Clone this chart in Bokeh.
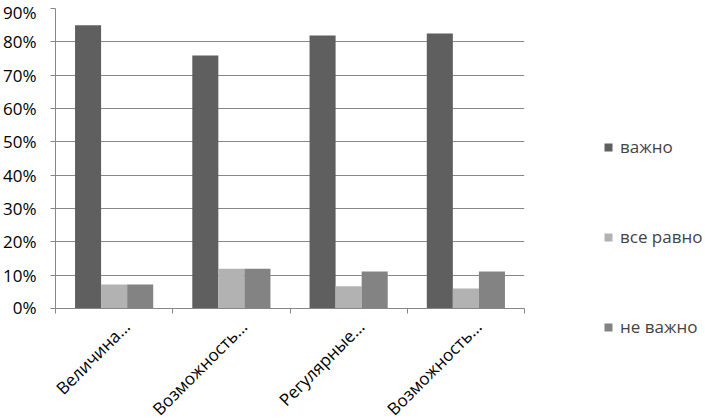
import numpy as np
from math import pi
from bokeh.plotting import figure
from bokeh.layouts import row, column
from bokeh.core.properties import value
from bokeh.models import (ColumnDataSource, Range1d, FixedTicker, NumeralTickFormatter,
                          Legend, LegendItem)
from bokeh.transform import dodge
from bokeh.embed import file_html
from bokeh.resources import INLINE

# ---- data ----
categories = ["Величина...", "Возможность...", "Регулярные...", "Возможность..."]
series_names = ["важно", "все равно", "не важно"]
vazhno = [0.850, 0.759, 0.819, 0.825]
vse_ravno = [0.072, 0.119, 0.067, 0.060]
ne_vazhno = [0.072, 0.119, 0.111, 0.111]
y_ticks = [0.0, 0.1, 0.2, 0.3, 0.4, 0.5, 0.6, 0.7, 0.8, 0.9]

colors = ["#5f5f5f", "#b2b2b2", "#838383"]
FONT = "Open Sans"
GRAY = "#878787"

# ---- layout constants (pixels) ----
P_W, P_H = 530, 318          # main plot canvas
F_LEFT, F_RIGHT = 54, 524    # plot frame horizontal extent
LAB_H = 419 - P_H            # strip for the rotated category labels
LEG_W = 705 - P_W

n = len(categories)
pos = np.arange(n) + 0.5
source = ColumnDataSource(dict(x=pos, s0=vazhno, s1=vse_ravno, s2=ne_vazhno,
                               label=categories))

p = figure(width=P_W, height=P_H, output_backend="svg", toolbar_location=None,
           x_range=Range1d(0, n), y_range=Range1d(0, 0.9),
           min_border_left=F_LEFT, min_border_right=P_W - F_RIGHT, min_border_top=8,
           min_border_bottom=10)
p.outline_line_color = None
p.background_fill_color = "white"
p.border_fill_color = "white"

w = 1 / 4.5
cols = ["s0", "s1", "s2"]
for i, (col, c) in enumerate(zip(cols, colors)):
    p.vbar(x=dodge("x", (i - 1) * w, range=p.x_range), top=col, width=w,
           source=source, fill_color=c, line_color=None)

# y axis
p.yaxis.ticker = FixedTicker(ticks=y_ticks)
p.yaxis.formatter = NumeralTickFormatter(format="0%")
p.yaxis.axis_line_color = GRAY
p.yaxis.major_tick_line_color = GRAY
p.yaxis.major_tick_out = 5
p.yaxis.major_tick_in = 0
p.yaxis.minor_tick_line_color = None
p.yaxis.major_label_text_font = FONT
p.yaxis.major_label_text_font_size = "17px"
p.yaxis.major_label_text_color = "black"
p.yaxis.major_label_standoff = 14

p.ygrid.ticker = FixedTicker(ticks=y_ticks)
p.ygrid.grid_line_color = GRAY
p.xgrid.grid_line_color = None

# x axis: only the line and the category-boundary tick marks
p.xaxis.ticker = FixedTicker(ticks=[], minor_ticks=list(range(n + 1)))
p.xaxis.axis_line_color = GRAY
p.xaxis.major_tick_line_color = None
p.xaxis.major_tick_out = 0
p.xaxis.major_tick_in = 0
p.xaxis.minor_tick_line_color = GRAY
p.xaxis.minor_tick_out = 5
p.xaxis.minor_tick_in = 0
p.xaxis.major_label_standoff = 0

# ---- rotated category labels strip (frame aligned with the plot, shares x range) ----
lab = figure(width=P_W, height=LAB_H, output_backend="svg", toolbar_location=None,
             x_axis_type=None, y_axis_type=None,
             x_range=p.x_range, y_range=Range1d(0, 1),
             min_border_left=F_LEFT, min_border_right=P_W - F_RIGHT,
             min_border_top=0, min_border_bottom=0)
lab.outline_line_color = None
lab.grid.grid_line_color = None
lab.background_fill_color = "white"
lab.border_fill_color = "white"
lab.text(x="x", y=1, text="label", source=source, angle=pi / 4,
         x_offset=12.5, y_offset=5, text_align="right", text_baseline="alphabetic",
         text_font=value(FONT), text_font_size="17px", text_color="black")

# ---- legend panel ----
q = figure(width=LEG_W, height=419, output_backend="svg", toolbar_location=None,
           x_axis_type=None, y_axis_type=None,
           x_range=Range1d(100, 101), y_range=Range1d(100, 101),
           min_border_left=73, min_border_right=0, min_border_top=135, min_border_bottom=0)
q.outline_line_color = None
q.grid.grid_line_color = None
q.background_fill_color = "white"
q.border_fill_color = "white"
items = []
for col, name, c in zip(cols, series_names, colors):
    r = q.vbar(x="x", top=col, width=w, source=source, fill_color=c, line_color=None)
    items.append(LegendItem(label=name, renderers=[r]))

legend = Legend(items=items, location="top_left", orientation="vertical",
                glyph_width=10, glyph_height=10, label_height=23, spacing=67,
                padding=0, margin=0, label_standoff=7,
                label_text_font=FONT, label_text_font_size="17px",
                border_line_color=None, background_fill_alpha=0)
q.add_layout(legend, "center")

layout = row(column(p, lab, spacing=0), q, spacing=0)
open("out.html", "w").write(file_html(layout, INLINE))
